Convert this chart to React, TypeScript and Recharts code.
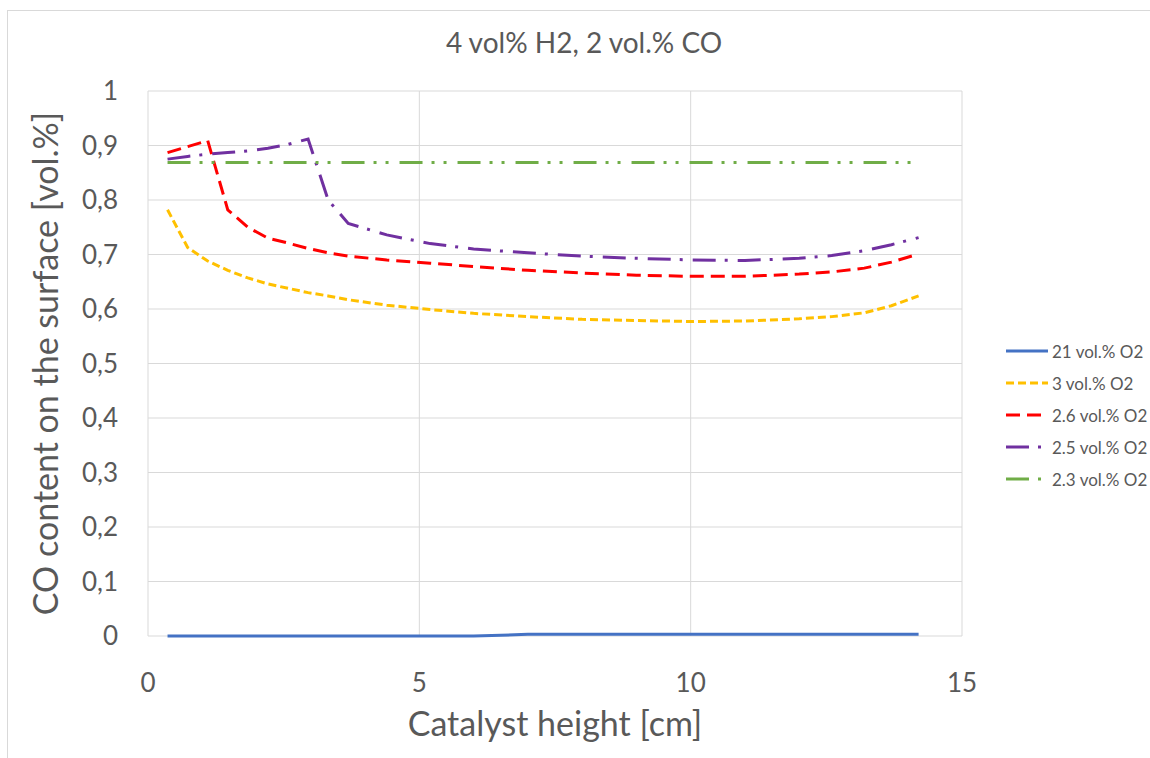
import { LineChart, Line, XAxis, YAxis, CartesianGrid, Legend, Label } from "recharts";

// catalyst height [cm]
const heights = [0.36, 0.73, 1.1, 1.47, 1.84, 2.21, 2.58, 2.95, 3.32, 3.69, 4.4, 5.2, 6.0, 7.0, 8.0, 9.0, 10.0, 11.0, 12.0, 12.6, 13.2, 13.7, 14.2];

// CO content on the surface [vol.%] per O2 level
const co21 = [0, 0, 0, 0, 0, 0, 0, 0, 0, 0, 0, 0, 0, 0.003, 0.003, 0.003, 0.003, 0.003, 0.003, 0.003, 0.003, 0.003, 0.003];
const co3 = [0.782, 0.713, 0.688, 0.671, 0.657, 0.646, 0.638, 0.63, 0.624, 0.617, 0.607, 0.599, 0.592, 0.586, 0.581, 0.579, 0.577, 0.578, 0.582, 0.586, 0.593, 0.606, 0.624];
const co26 = [0.887, 0.898, 0.909, 0.782, 0.75, 0.73, 0.721, 0.711, 0.703, 0.697, 0.69, 0.684, 0.678, 0.671, 0.666, 0.662, 0.66, 0.66, 0.664, 0.668, 0.675, 0.686, 0.701];
const co25 = [0.875, 0.88, 0.884, 0.887, 0.89, 0.895, 0.902, 0.912, 0.8, 0.757, 0.736, 0.72, 0.71, 0.703, 0.697, 0.693, 0.69, 0.689, 0.693, 0.698, 0.707, 0.718, 0.731];
const co23 = [0.869, 0.869, 0.869, 0.869, 0.869, 0.869, 0.869, 0.869, 0.869, 0.869, 0.869, 0.869, 0.869, 0.869, 0.869, 0.869, 0.869, 0.869, 0.869, 0.869, 0.869, 0.869, 0.869];

const xTicks = [0, 5, 10, 15];
const yTicks = [0, 0.1, 0.2, 0.3, 0.4, 0.5, 0.6, 0.7, 0.8, 0.9, 1];

const SERIES = [
  { key: "o21", name: "21 vol.% O2", color: "#4472C4", dash: undefined },
  { key: "o3", name: "3 vol.% O2", color: "#FFC000", dash: "8 4" },
  { key: "o26", name: "2.6 vol.% O2", color: "#FF0000", dash: "14 7" },
  { key: "o25", name: "2.5 vol.% O2", color: "#7030A0", dash: "23 9 3 10" },
  { key: "o23", name: "2.3 vol.% O2", color: "#70AD47", dash: "23 9 3 9 3 11" },
];

const data = heights.map((h, i) => ({
  h,
  o21: co21[i],
  o3: co3[i],
  o26: co26[i],
  o25: co25[i],
  o23: co23[i],
}));

const FONT = "Lato, 'Open Sans', sans-serif";
const TEXT = "#595959";
const GRID = "#D9D9D9";

function LegendBox() {
  return (
    <div style={{ fontFamily: FONT, fontSize: 17, color: TEXT }}>
      {SERIES.map((s) => (
        <div key={s.key} style={{ display: "flex", alignItems: "center", height: 32 }}>
          <svg width={46} height={10} style={{ marginLeft: 6 }}>
            <line x1={0} y1={5} x2={42} y2={5} stroke={s.color} strokeWidth={3} strokeDasharray={s.dash} />
          </svg>
          <span>{s.name}</span>
        </div>
      ))}
    </div>
  );
}

export default function App() {
  return (
    <div style={{ position: "absolute", left: 0, top: 0, width: 1150, height: 758, overflow: "hidden", background: "#fff" }}>
      <div style={{ position: "absolute", left: 7, top: 10, width: 1200, height: 800, border: `1px solid ${GRID}` }} />
      <div
        style={{
          position: "absolute",
          left: 384,
          top: 25,
          width: 400,
          textAlign: "center",
          fontFamily: FONT,
          fontSize: 28,
          color: TEXT,
        }}
      >
        4 vol% H2, 2 vol.% CO
      </div>
      <div style={{ position: "absolute", left: 0, top: 0 }}>
        <LineChart width={1150} height={758} data={data} margin={{ top: 91, right: 188, left: 0, bottom: 62 }}>
          <CartesianGrid stroke={GRID} strokeWidth={1} horizontalValues={yTicks} verticalValues={xTicks} />
          <XAxis
            dataKey="h"
            type="number"
            domain={[0, 15]}
            ticks={xTicks}
            height={60}
            axisLine={false}
            tickLine={false}
            tickSize={6}
            tickMargin={32}
            tick={{ fill: TEXT, fontSize: 26, fontFamily: FONT }}
          >
            <Label value="Catalyst height [cm]" position="bottom" offset={16} fill={TEXT} fontSize={34} fontFamily={FONT} />
          </XAxis>
          <YAxis
            type="number"
            domain={[0, 1]}
            ticks={yTicks}
            width={148}
            axisLine={false}
            tickLine={false}
            tickSize={6}
            tickMargin={24}
            tickFormatter={(v: number) => String(Math.round(v * 10) / 10).replace(".", ",")}
            tick={{ fill: TEXT, fontSize: 26, fontFamily: FONT }}
          >
            <Label
              value="CO content on the surface [vol.%]"
              angle={-90}
              position="insideLeft"
              offset={46}
              style={{ textAnchor: "middle" }}
              fill={TEXT}
              fontSize={34}
              fontFamily={FONT}
            />
          </YAxis>
          {SERIES.map((s) => (
            <Line
              key={s.key}
              dataKey={s.key}
              name={s.name}
              type="linear"
              stroke={s.color}
              strokeWidth={3}
              strokeDasharray={s.dash}
              dot={false}
              activeDot={false}
              isAnimationActive={false}
            />
          ))}
          <Legend
            layout="vertical"
            align="center"
            verticalAlign="middle"
            wrapperStyle={{ left: 1000, top: 335, width: 150 }}
            content={() => <LegendBox />}
          />
        </LineChart>
      </div>
    </div>
  );
}
